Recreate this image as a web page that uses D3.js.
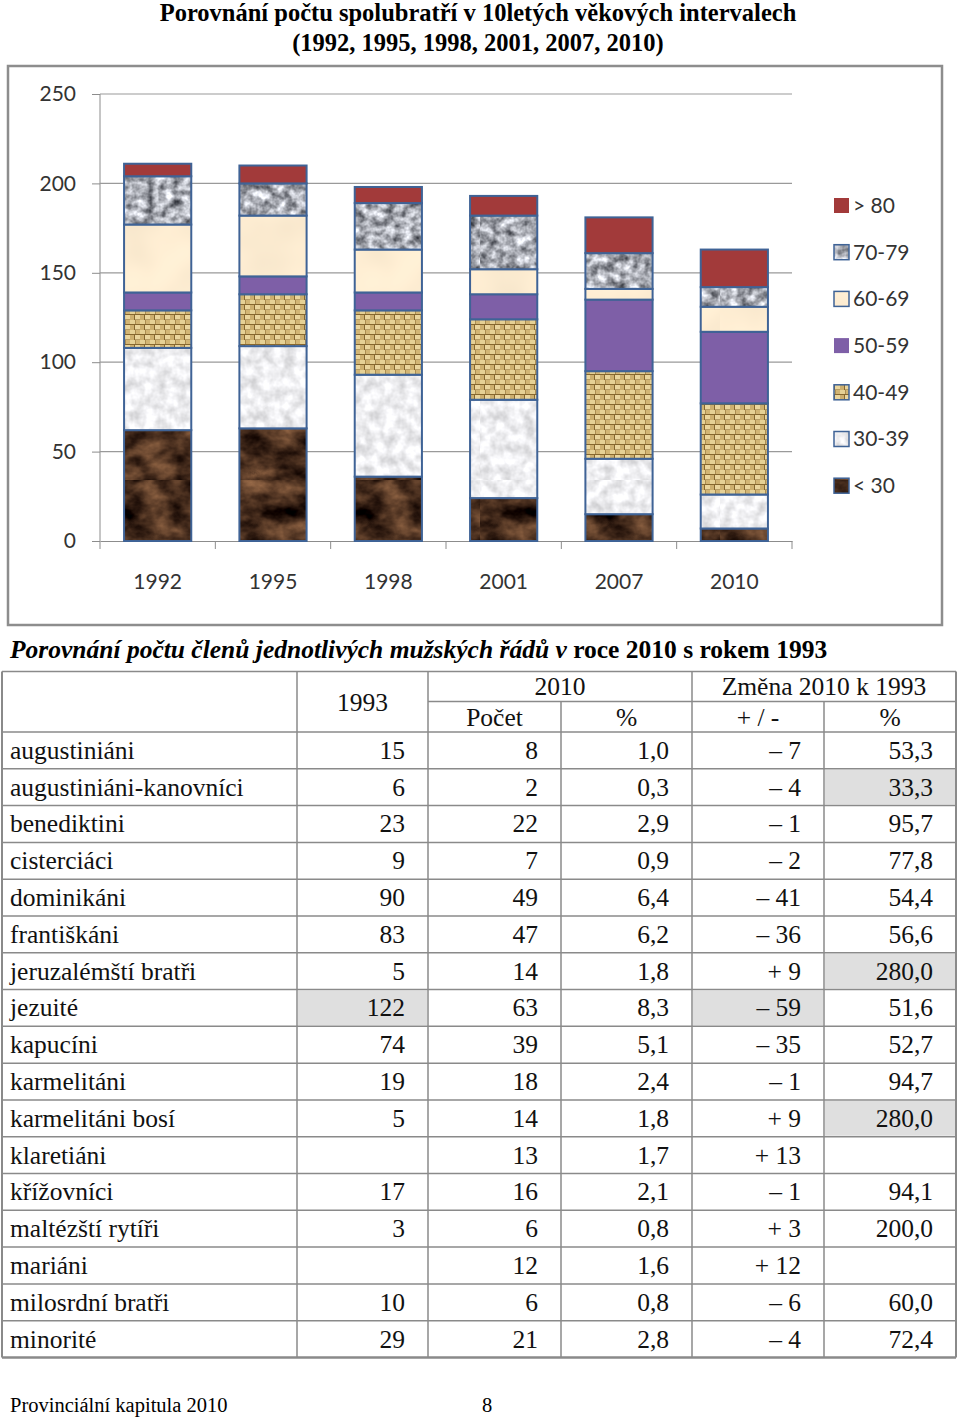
<!DOCTYPE html>
<html><head><meta charset="utf-8">
<script src="https://cdn.jsdelivr.net/npm/d3@7"></script>
<style>
html,body{margin:0;padding:0;background:#fff;}
svg{display:block;}
</style></head>
<body>
<svg id="page" width="960" height="1418"></svg>
<script>
// ---------- Chart data ----------
const years = ["1992","1995","1998","2001","2007","2010"];
const ageGroups = ["< 30","30-39","40-49","50-59","60-69","70-79","> 80"];
const under30 = [62,63,36,24,15,7];
const age30_39 = [46,46,57,55,31,19];
const age40_49 = [21,29,36,45,49,51];
const age50_59 = [10,10,10,14,40,40];
const age60_69 = [38,34,24,14,6,14];
const age70_79 = [27,18,26,30,20,11];
const over80 = [7,10,9,11,20,21];
const yTicks = [0,50,100,150,200,250];

// ---------- Table data ----------
const orders = ["augustiniáni","augustiniáni-kanovníci","benediktini","cisterciáci","dominikáni","františkáni","jeruzalémští bratři","jezuité","kapucíni","karmelitáni","karmelitáni bosí","klaretiáni","křížovníci","maltézští rytíři","mariáni","milosrdní bratři","minorité"];
const count1993 = ["15","6","23","9","90","83","5","122","74","19","5","","17","3","","10","29"];
const count2010 = ["8","2","22","7","49","47","14","63","39","18","14","13","16","6","12","6","21"];
const pct2010 = ["1,0","0,3","2,9","0,9","6,4","6,2","1,8","8,3","5,1","2,4","1,8","1,7","2,1","0,8","1,6","0,8","2,8"];
const change = ["– 7","– 4","– 1","– 2","– 41","– 36","+ 9","– 59","– 35","– 1","+ 9","+ 13","– 1","+ 3","+ 12","– 6","– 4"];
const changePct = ["53,3","33,3","95,7","77,8","54,4","56,6","280,0","51,6","52,7","94,7","280,0","","94,1","200,0","","60,0","72,4"];
const shaded = [[1,5],[6,5],[7,1],[7,4],[10,5]]; // [row, column]

const series = [under30, age30_39, age40_49, age50_59, age60_69, age70_79, over80];

const svg = d3.select("#page");
const defs = svg.append("defs");

// ---------- textures ----------
function noiseFilter(id, freq, oct, seed, matrix){
  const f = defs.append("filter").attr("id", id).attr("x",0).attr("y",0).attr("width","100%").attr("height","100%")
    .attr("filterUnits","objectBoundingBox").attr("color-interpolation-filters","sRGB");
  f.append("feTurbulence").attr("type","fractalNoise").attr("baseFrequency",freq).attr("numOctaves",oct).attr("seed",seed).attr("result","n");
  f.append("feColorMatrix").attr("in","n").attr("type","matrix").attr("values",matrix);
}
noiseFilter("fBrown","0.035 0.05",4,5,
  "0.8 0 0 0 -0.13  0.6 0 0 0 -0.13  0.42 0 0 0 -0.10  0 0 0 0 1");
noiseFilter("fGranite","0.11",3,11,
  "1.15 0 0 0 0.09  1.15 0 0 0 0.10  1.15 0 0 0 0.13  0 0 0 0 1");
noiseFilter("fWhite","0.09",3,3,
  "0.35 0 0 0 0.76  0.35 0 0 0 0.76  0.35 0 0 0 0.77  0 0 0 0 1");
noiseFilter("fCream","0.02",2,9,
  "0.08 0 0 0 0.95  0.08 0 0 0 0.885  0.08 0 0 0 0.78  0 0 0 0 1");

function noisePattern(id, filt){
  const p = defs.append("pattern").attr("id",id).attr("patternUnits","userSpaceOnUse")
    .attr("width",240).attr("height",480);
  p.append("rect").attr("width",240).attr("height",480).attr("filter",`url(#${filt})`);
}
noisePattern("pBrown","fBrown");
noisePattern("pGranite","fGranite");
noisePattern("pWhite","fWhite");
noisePattern("pCream","fCream");

// burlap weave
const bp = defs.append("pattern").attr("id","pBurlap").attr("patternUnits","userSpaceOnUse").attr("width",10).attr("height",10);
bp.append("rect").attr("width",10).attr("height",10).attr("fill","#86672f");
bp.append("rect").attr("x",0).attr("y",0).attr("width",5).attr("height",4).attr("fill","#e6d195");
bp.append("rect").attr("x",5.5).attr("y",0).attr("width",4.5).attr("height",4).attr("fill","#d2b574");
bp.append("rect").attr("x",0).attr("y",5).attr("width",4).attr("height",5).attr("fill","#cdaf6e");
bp.append("rect").attr("x",5).attr("y",5).attr("width",5).attr("height",4.5).attr("fill","#ead59c");

const fills = ["url(#pBrown)","url(#pWhite)","url(#pBurlap)","#7e5fa7","url(#pCream)","url(#pGranite)","#a23a3a"];
const barStroke = "#3f6396";

// ---------- titles ----------
const serif = "'Liberation Serif','Times New Roman',serif";
svg.append("text").attr("x",478).attr("y",21).attr("text-anchor","middle")
  .attr("font-family",serif).attr("font-weight","bold").attr("font-size",24.5)
  .text("Porovnání počtu spolubratří v 10letých věkových intervalech");
svg.append("text").attr("x",478).attr("y",51).attr("text-anchor","middle")
  .attr("font-family",serif).attr("font-weight","bold").attr("font-size",24.5)
  .text("(1992, 1995, 1998, 2001, 2007, 2010)");

// ---------- chart ----------
svg.append("rect").attr("x",8).attr("y",66).attr("width",934).attr("height",559)
  .attr("fill","#fff").attr("stroke","#8d8d8d").attr("stroke-width",2.5);

const x = d3.scaleBand().domain(years).range([100,792]).paddingInner(0.4).paddingOuter(0.2);
const y = d3.scaleLinear().domain([0,250]).range([541,94]);
const sans = "Lato,'Open Sans',sans-serif";

const yAxis = svg.append("g").attr("transform","translate(100,0)")
  .call(d3.axisLeft(y).tickValues(yTicks).tickSize(8).tickPadding(16));
yAxis.select(".domain").attr("stroke","#8c8c8c").attr("d","M0,94V541");
yAxis.selectAll(".tick line").attr("stroke","#8c8c8c");
yAxis.selectAll(".tick text").attr("font-family",sans).attr("font-size",21).attr("fill","#333");
// gridlines
svg.append("g").selectAll("line").data(yTicks.filter(d=>d>0)).join("line")
  .attr("x1",100).attr("x2",792).attr("y1",d=>y(d)).attr("y2",d=>y(d))
  .attr("stroke","#9a9a9a").attr("stroke-width",1.2);

const xAxis = svg.append("g").attr("transform","translate(0,541)")
  .call(d3.axisBottom(x).tickSize(0).tickPadding(33));
xAxis.select(".domain").attr("stroke","#8c8c8c");
xAxis.selectAll(".tick text").attr("font-family",sans).attr("font-size",21).attr("fill","#333");
// category boundary ticks
const bounds = years.map(d => x(d) - (x.step()-x.bandwidth())/2).concat([792]);
svg.append("g").selectAll("line").data(bounds).join("line")
  .attr("x1",d=>d).attr("x2",d=>d).attr("y1",541).attr("y2",549).attr("stroke","#8c8c8c");

// stacked bars
const table = years.map((yr,i)=>{ const o={year:yr}; ageGroups.forEach((g,k)=>o[g]=series[k][i]); return o; });
const stacked = d3.stack().keys(ageGroups)(table);
const bars = svg.append("g");
stacked.forEach((layer,k)=>{
  bars.append("g").selectAll("rect").data(layer).join("rect")
    .attr("x",d=>x(d.data.year)+1).attr("width",x.bandwidth()-2)
    .attr("y",d=>y(d[1])).attr("height",d=>y(d[0])-y(d[1]))
    .attr("fill",fills[k]).attr("stroke",barStroke).attr("stroke-width",2);
});

// legend
const leg = svg.append("g");
const legOrder = ageGroups.slice().reverse();
legOrder.forEach((g,i)=>{
  const k = ageGroups.indexOf(g);
  const yy = 205 + i*46.7;
  leg.append("rect").attr("x",834).attr("y",yy-7).attr("width",15).attr("height",15)
    .attr("fill",fills[k]).attr("stroke",(k===6||k===3)?"none":barStroke).attr("stroke-width",1.5);
  leg.append("text").attr("x",853).attr("y",yy).attr("dy","0.38em")
    .attr("font-family",sans).attr("font-size",21).attr("fill","#333").text(g);
});

// ---------- table ----------
const tt = svg.append("text").attr("x",10).attr("y",658).attr("font-family",serif).attr("font-size",25.5).attr("font-weight","bold");
tt.append("tspan").attr("font-style","italic").text("Porovnání počtu členů jednotlivých mužských řádů v");
tt.append("tspan").text(" roce 2010 s rokem 1993");

const colEdges = [2,297,428,561,692,824,956];
const headTop = 671.5, headMid = 701.5, headBot = 732;
const rowY = d3.scaleLinear().domain([0,orders.length]).range([headBot,1357.5]);
const tg = svg.append("g");
const lineC = "#8a8a8a";

// shaded cells
tg.selectAll("rect.sh").data(shaded).join("rect")
  .attr("x",d=>colEdges[d[1]]+1).attr("y",d=>rowY(d[0])+1)
  .attr("width",d=>colEdges[d[1]+1]-colEdges[d[1]]-2).attr("height",d=>rowY(d[0]+1)-rowY(d[0])-2)
  .attr("fill","#dfdfdf");

// horizontal lines
tg.append("line").attr("x1",colEdges[0]).attr("x2",colEdges[6]).attr("y1",headTop).attr("y2",headTop).attr("stroke",lineC).attr("stroke-width",1.5);
tg.append("line").attr("x1",colEdges[2]).attr("x2",colEdges[6]).attr("y1",headMid).attr("y2",headMid).attr("stroke",lineC).attr("stroke-width",1.5);
tg.selectAll("line.h").data(d3.range(orders.length+1)).join("line")
  .attr("x1",colEdges[0]).attr("x2",colEdges[6]).attr("y1",d=>rowY(d)).attr("y2",d=>rowY(d))
  .attr("stroke",lineC).attr("stroke-width",d=>d===orders.length?2.5:1.5);
// vertical lines
colEdges.forEach((cx,i)=>{
  let y1 = headTop;
  if(i===3 || i===5) y1 = headMid;
  tg.append("line").attr("x1",cx).attr("x2",cx).attr("y1",y1).attr("y2",rowY(orders.length))
    .attr("stroke",lineC).attr("stroke-width",(i===0||i===6)?2:1.5);
});

const fs = 25.5;
function cellText(tx, ty, s, anchor){
  tg.append("text").attr("x",tx).attr("y",ty).attr("text-anchor",anchor||"start")
    .attr("font-family",serif).attr("font-size",fs).attr("fill","#111").text(s);
}
cellText((colEdges[1]+colEdges[2])/2, 711, "1993", "middle");
cellText((colEdges[2]+colEdges[4])/2, 695, "2010", "middle");
cellText((colEdges[4]+colEdges[6])/2, 695, "Změna 2010 k 1993", "middle");
cellText((colEdges[2]+colEdges[3])/2, 726, "Počet", "middle");
cellText((colEdges[3]+colEdges[4])/2, 726, "%", "middle");
cellText((colEdges[4]+colEdges[5])/2, 726, "+ / -", "middle");
cellText((colEdges[5]+colEdges[6])/2, 726, "%", "middle");

const cols = [count1993, count2010, pct2010, change, changePct];
orders.forEach((name,r)=>{
  const base = (rowY(r)+rowY(r+1))/2 + 8.5;
  cellText(10, base, name, "start");
  cols.forEach((arr,c)=>{
    cellText(colEdges[c+2]-23, base, arr[r], "end");
  });
});

// footer
svg.append("text").attr("x",10).attr("y",1412).attr("font-family",serif).attr("font-size",20.5).text("Provinciální kapitula 2010");
svg.append("text").attr("x",487).attr("y",1412).attr("text-anchor","middle").attr("font-family",serif).attr("font-size",20.5).text("8");
</script>
</body></html>
